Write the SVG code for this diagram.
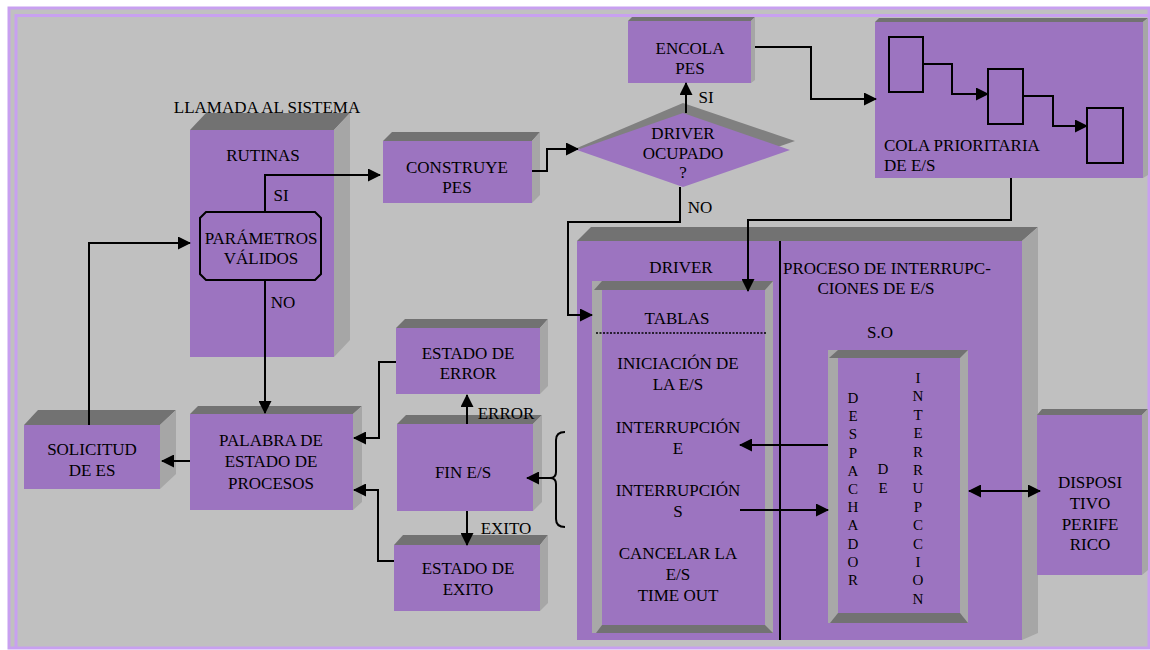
<svg xmlns="http://www.w3.org/2000/svg" width="1150" height="650" viewBox="0 0 1150 650">
<style>
.f{fill:#9c74c0}
.t{fill:#727272}
.s{fill:#a6a6a6}
.c{fill:none;stroke:#000;stroke-width:2}
text{font-family:"Liberation Serif","Times New Roman",serif;font-size:17px;fill:#000;text-anchor:middle}
.l{text-anchor:start}
.v{font-size:15px}
</style>
<defs>
<marker id="ah" markerWidth="13" markerHeight="13" refX="12" refY="6.5" orient="auto-start-reverse" markerUnits="userSpaceOnUse"><path d="M0,0 L13,6.5 L0,13 z" fill="#000"/></marker>
</defs>
<rect x="0" y="0" width="1150" height="650" fill="#ffffff"/>
<rect x="9" y="8" width="1140" height="640" fill="#c0c0c0" stroke="#c8a0f0" stroke-width="3"/>
<path d="M16,647 V15.5 H1148" fill="none" stroke="#c8a0f0" stroke-width="3"/>

<g id="rutinas">
<polygon class="t" points="190,130 206,113 350,113 334,130"/>
<polygon class="s" points="334,130 350,113 350,340 334,357"/>
<rect class="f" x="190" y="130" width="144" height="227"/>
<text x="267" y="113">LLAMADA AL SISTEMA</text>
<text x="263" y="161">RUTINAS</text>
</g>
<g id="parametros">
<polygon class="f" points="206,212 315,212 321,218 321,274 315,280 206,280 200,274 200,218" stroke="#000" stroke-width="2"/>
<text x="261" y="244">PARÁMETROS</text>
<text x="261" y="264">VÁLIDOS</text>
</g>
<g id="construye">
<polygon class="t" points="383,141 392,132 540,132 532,141"/>
<polygon class="s" points="532,141 540,132 540,195 532,203"/>
<rect class="f" x="383" y="141" width="149" height="62"/>
<text x="457" y="173">CONSTRUYE</text>
<text x="457" y="193">PES</text>
</g>
<g id="driver-ocupado">
<polygon fill="#808080" points="577,148 683,103 795,141 683,180"/>
<polygon class="f" points="577,150 683,113 790,150 683,187"/>
<text x="683" y="139">DRIVER</text>
<text x="683" y="159">OCUPADO</text>
<text x="683" y="178">?</text>
</g>
<g id="encola">
<polygon class="t" points="628,21 632,17 755,17 751,21"/>
<polygon class="s" points="751,21 755,17 755,80 751,83"/>
<rect class="f" x="628" y="21" width="123" height="62"/>
<text x="690" y="54">ENCOLA</text>
<text x="690" y="74">PES</text>
</g>
<g id="cola">
<polygon class="t" points="875,22 879,18 1148,18 1143,22"/>
<polygon class="s" points="1143,22 1148,18 1148,175 1143,178"/>
<rect class="f" x="875" y="22" width="268" height="156"/>
<rect x="889" y="37" width="34" height="55" fill="none" stroke="#000" stroke-width="2"/>
<rect x="988" y="69" width="35" height="55" fill="none" stroke="#000" stroke-width="2"/>
<rect x="1087" y="108" width="36" height="55" fill="none" stroke="#000" stroke-width="2"/>
<text class="l" x="884" y="151">COLA PRIORITARIA</text>
<text class="l" x="884" y="171">DE E/S</text>
</g>
<g id="solicitud">
<polygon class="t" points="24,425 38,410 176,410 160,425"/>
<polygon class="s" points="160,425 176,410 176,474 160,489"/>
<rect class="f" x="24" y="425" width="136" height="64"/>
<text x="92" y="455">SOLICITUD</text>
<text x="92" y="476">DE ES</text>
</g>
<g id="palabra">
<polygon class="t" points="190,414 198,406 362,406 353,414"/>
<polygon class="s" points="353,414 362,406 362,502 353,510"/>
<rect class="f" x="190" y="414" width="163" height="96"/>
<text x="271" y="446">PALABRA DE</text>
<text x="271" y="467">ESTADO DE</text>
<text x="271" y="489">PROCESOS</text>
</g>
<g id="estado-error">
<polygon class="t" points="396,328 405,319 548,319 540,328"/>
<polygon class="s" points="540,328 548,319 548,386 540,394"/>
<rect class="f" x="396" y="328" width="144" height="66"/>
<text x="468" y="359">ESTADO DE</text>
<text x="468" y="379">ERROR</text>
</g>
<g id="fin-es">
<polygon class="t" points="397,424 406,415 542,415 533,424"/>
<polygon class="s" points="533,424 542,415 542,502 533,511"/>
<rect class="f" x="397" y="424" width="136" height="87"/>
<text x="463" y="478">FIN E/S</text>
</g>
<g id="estado-exito">
<polygon class="t" points="394,545 403,535 548,535 540,545"/>
<polygon class="s" points="540,545 548,535 548,603 540,611"/>
<rect class="f" x="394" y="545" width="146" height="66"/>
<text x="468" y="574">ESTADO DE</text>
<text x="468" y="595">EXITO</text>
</g>
<g id="driver">
<polygon class="t" points="577,241 591,227 1038,227 1022,241"/>
<polygon class="s" points="1022,241 1038,227 1038,633 1022,640"/>
<rect class="f" x="577" y="241" width="445" height="399"/>
<line x1="780" y1="241" x2="780" y2="640" stroke="#000" stroke-width="2"/>
<text x="681" y="273">DRIVER</text>
<text class="l" x="783" y="274">PROCESO DE INTERRUPC-</text>
<text x="876" y="294">CIONES DE E/S</text>
<text x="880" y="338">S.O</text>
</g>
<g id="tablas">
<rect x="592" y="281" width="181" height="352" fill="#a8a8a8"/>
<polygon class="t" points="594,290 602,281 773,281 765,290"/>
<polygon class="t" points="596,633 602,625 765,625 773,633"/>
<rect class="f" x="602" y="290" width="163" height="335"/>
<text x="677" y="324">TABLAS</text>
<line x1="596" y1="333" x2="767" y2="333" stroke="#000" stroke-width="1.5" stroke-dasharray="2,1.5"/>
<text x="678" y="369">INICIACIÓN DE</text>
<text x="678" y="390">LA E/S</text>
<text x="678" y="433">INTERRUPCIÓN</text>
<text x="678" y="454">E</text>
<text x="678" y="496">INTERRUPCIÓN</text>
<text x="678" y="517">S</text>
<text x="678" y="559">CANCELAR LA</text>
<text x="678" y="580">E/S</text>
<text x="678" y="601">TIME OUT</text>
</g>
<g id="despachador">
<rect x="828" y="350" width="140" height="273" fill="#a8a8a8"/>
<polygon class="t" points="829,358 838,350 968,350 960,358"/>
<polygon class="t" points="830,623 838,613 960,613 968,623"/>
<rect class="f" x="838" y="358" width="122" height="255"/>
<text class="v" x="853" y="403"><tspan x="853">D</tspan><tspan x="853" dy="18.2">E</tspan><tspan x="853" dy="18.2">S</tspan><tspan x="853" dy="18.2">P</tspan><tspan x="853" dy="18.2">A</tspan><tspan x="853" dy="18.2">C</tspan><tspan x="853" dy="18.2">H</tspan><tspan x="853" dy="18.2">A</tspan><tspan x="853" dy="18.2">D</tspan><tspan x="853" dy="18.2">O</tspan><tspan x="853" dy="18.2">R</tspan></text>
<text class="v" x="883" y="474"><tspan x="883">D</tspan><tspan x="883" dy="19">E</tspan></text>
<text class="v" x="918" y="383"><tspan x="918">I</tspan><tspan x="918" dy="18.4">N</tspan><tspan x="918" dy="18.4">T</tspan><tspan x="918" dy="18.4">E</tspan><tspan x="918" dy="18.4">R</tspan><tspan x="918" dy="18.4">R</tspan><tspan x="918" dy="18.4">U</tspan><tspan x="918" dy="18.4">P</tspan><tspan x="918" dy="18.4">C</tspan><tspan x="918" dy="18.4">C</tspan><tspan x="918" dy="18.4">I</tspan><tspan x="918" dy="18.4">O</tspan><tspan x="918" dy="18.4">N</tspan></text>
</g>
<g id="dispositivo">
<polygon class="t" points="1037,415 1042,409 1148,409 1142,415"/>
<polygon class="s" points="1142,415 1148,409 1148,570 1142,575"/>
<rect class="f" x="1037" y="415" width="105" height="160"/>
<text x="1090" y="488">DISPOSI</text>
<text x="1090" y="509">TIVO</text>
<text x="1090" y="530">PERIFE</text>
<text x="1090" y="550">RICO</text>
</g>

<g id="connectors">
<path class="c" d="M265,212 V175 H380" marker-end="url(#ah)"/>
<path class="c" d="M265,280 V413" marker-end="url(#ah)"/>
<path class="c" d="M89,425 V243 H190" marker-end="url(#ah)"/>
<path class="c" d="M190,461 H162" marker-end="url(#ah)"/>
<path class="c" d="M532,171 H547 V149 H578" marker-end="url(#ah)"/>
<path class="c" d="M686,113 V83" marker-end="url(#ah)"/>
<path class="c" d="M755,47 H811 V99 H876" marker-end="url(#ah)"/>
<path class="c" d="M923,64 H952 V94 H988" marker-end="url(#ah)"/>
<path class="c" d="M1023,96 H1053 V126 H1087" marker-end="url(#ah)"/>
<path class="c" d="M1011,178 V220 H748 V291" marker-end="url(#ah)"/>
<path class="c" d="M680,187 V222 H568 V315 H592" marker-end="url(#ah)"/>
<path class="c" d="M467,424 V395" marker-end="url(#ah)"/>
<path class="c" d="M467,511 V545" marker-end="url(#ah)"/>
<path class="c" d="M396,362 H379 V438 H354" marker-end="url(#ah)"/>
<path class="c" d="M394,561 H378 V490 H354" marker-end="url(#ah)"/>
<path class="c" d="M565,432 Q556,432 556,440 V472 Q556,478 550,478 Q556,478 556,484 V519 Q556,527 565,527"/>
<path class="c" d="M550,478 H527" marker-end="url(#ah)"/>
<path class="c" d="M828,445 H740" marker-end="url(#ah)"/>
<path class="c" d="M740,510 H828" marker-end="url(#ah)"/>
<path class="c" d="M969,491 H1040" marker-start="url(#ah)" marker-end="url(#ah)"/>
<text x="281" y="201">SI</text>
<text x="283" y="308">NO</text>
<text x="706" y="103">SI</text>
<text x="700" y="213">NO</text>
<text x="506" y="419">ERROR</text>
<text x="506" y="534">EXITO</text>
</g>
</svg>
